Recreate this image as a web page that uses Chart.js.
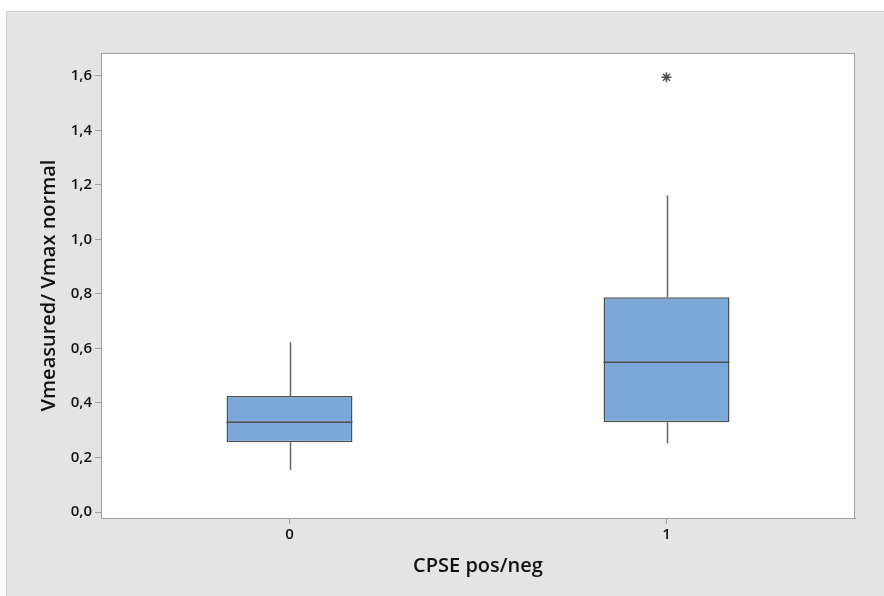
<!DOCTYPE html>
<html><head><meta charset="utf-8">
<script src="https://cdn.jsdelivr.net/npm/chart.js@4.4.0/dist/chart.umd.min.js"></script>
<style>html,body{margin:0;padding:0;background:#fff}#wrap{width:884px;height:596px}</style>
</head><body><div id="wrap"><canvas id="c" width="884" height="596"></canvas></div>
<script>
const categories = ['0', '1'];
const q1 = [0.256, 0.329];
const median = [0.329, 0.549];
const q3 = [0.426, 0.788];
const whiskerLow = [0.154, 0.251];
const whiskerHigh = [0.623, 1.161];
const outliers = [null, 1.595];
const yTicks = [0.0, 0.2, 0.4, 0.6, 0.8, 1.0, 1.2, 1.4, 1.6];

const bgPlugin = {
  id: 'bg',
  beforeDraw(chart) {
    const ctx = chart.ctx, a = chart.chartArea;
    ctx.save();
    ctx.fillStyle = '#ffffff';
    ctx.fillRect(0, 0, chart.width, chart.height);
    ctx.fillStyle = '#e4e4e4';
    ctx.fillRect(6, 11, chart.width - 6, chart.height - 11);
    ctx.strokeStyle = '#cfcfcf';
    ctx.lineWidth = 1;
    ctx.beginPath();
    ctx.moveTo(6.5, chart.height); ctx.lineTo(6.5, 11.5); ctx.lineTo(chart.width, 11.5);
    ctx.stroke();
    ctx.fillStyle = '#ffffff';
    ctx.fillRect(a.left, a.top, a.right - a.left, a.bottom - a.top);
    ctx.restore();
  },
  afterDraw(chart) {
    const ctx = chart.ctx, a = chart.chartArea;
    ctx.save();
    ctx.strokeStyle = '#a0a0a0';
    ctx.lineWidth = 1;
    ctx.strokeRect(a.left + 0.5, a.top + 0.5, a.right - a.left - 1, a.bottom - a.top);
    ctx.restore();
  }
};

const boxPlugin = {
  id: 'boxparts',
  beforeDatasetsDraw(chart) {
    const ctx = chart.ctx, x = chart.scales.x, y = chart.scales.y;
    ctx.save();
    ctx.strokeStyle = '#666666';
    ctx.lineWidth = 1.5;
    categories.forEach((c, i) => {
      const px = Math.round(x.getPixelForValue(i)) + 0.5;
      ctx.beginPath();
      ctx.moveTo(px, y.getPixelForValue(whiskerHigh[i]));
      ctx.lineTo(px, y.getPixelForValue(q3[i]));
      ctx.moveTo(px, y.getPixelForValue(q1[i]));
      ctx.lineTo(px, y.getPixelForValue(whiskerLow[i]));
      ctx.stroke();
    });
    ctx.restore();
  },
  afterDatasetsDraw(chart) {
    const ctx = chart.ctx, y = chart.scales.y;
    const meta = chart.getDatasetMeta(0);
    ctx.save();
    ctx.strokeStyle = '#505050';
    ctx.lineWidth = 1.5;
    meta.data.forEach((bar, i) => {
      const half = bar.width / 2;
      const py = y.getPixelForValue(median[i]);
      ctx.beginPath();
      ctx.moveTo(bar.x - half, py);
      ctx.lineTo(bar.x + half, py);
      ctx.stroke();
    });
    ctx.restore();
  }
};

new Chart(document.getElementById('c'), {
  type: 'bar',
  data: {
    labels: categories,
    datasets: [{
      data: categories.map((c, i) => [q1[i], q3[i]]),
      backgroundColor: '#7ba7d9',
      borderColor: '#505050',
      borderWidth: 1.5,
      borderSkipped: false,
      barPercentage: 0.334,
      categoryPercentage: 1.0,
      order: 2
    }, {
      type: 'line',
      data: outliers,
      showLine: false,
      pointStyle: 'star',
      pointRadius: 5,
      pointBorderWidth: 1.5,
      pointBorderColor: '#505050',
      pointBackgroundColor: '#505050',
      order: 1
    }]
  },
  options: {
    responsive: false,
    animation: false,
    events: [],
    layout: { padding: { left: 0, top: 53, right: 29, bottom: 0 } },
    plugins: { legend: { display: false }, tooltip: { enabled: false } },
    scales: {
      x: {
        offset: true,
        grid: { offset: false, drawOnChartArea: false, drawTicks: true, tickLength: 6, color: '#a0a0a0' },
        border: { display: true, color: '#a0a0a0' },
        ticks: { color: '#111111', font: { family: 'Open Sans', size: 15, weight: '600' }, padding: 2 },
        title: { display: true, text: 'CPSE pos/neg', color: '#111111', font: { family: 'Open Sans', size: 20, weight: '600' }, padding: { top: 0, bottom: 18 } },
        afterFit(s) { s.height = 78; }
      },
      y: {
        min: -0.022,
        max: 1.684,
        afterBuildTicks(s) { s.ticks = yTicks.map(v => ({ value: v })); },
        grid: { drawOnChartArea: false, drawTicks: true, tickLength: 6, color: '#a0a0a0' },
        border: { display: true, color: '#a0a0a0' },
        ticks: {
          color: '#111111', font: { family: 'Open Sans', size: 15, weight: '600' }, padding: 3,
          callback: v => v.toFixed(1).replace('.', ',')
        },
        title: { display: true, text: 'Vmeasured/ Vmax normal', color: '#111111', font: { family: 'Open Sans', size: 20, weight: '600' }, padding: { top: 37, bottom: 0 } },
        afterFit(s) { s.width = 101; }
      }
    }
  },
  plugins: [bgPlugin, boxPlugin]
});
</script></body></html>
